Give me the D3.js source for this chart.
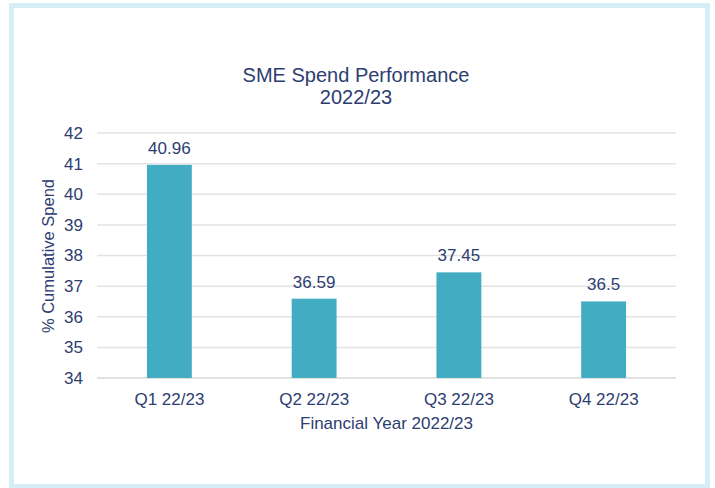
<!DOCTYPE html>
<html>
<head>
<meta charset="utf-8">
<script src="https://cdn.jsdelivr.net/npm/d3@7"></script>
<style>
  body { margin: 0; background: #fff; }
  text { font-family: "Liberation Sans", Arial, sans-serif; fill: #2d3d70; }
</style>
</head>
<body>
<svg id="chart" width="715" height="488"></svg>
<script>
const quarters = ['Q1 22/23', 'Q2 22/23', 'Q3 22/23', 'Q4 22/23'];
const spend = [40.96, 36.59, 37.45, 36.5];
const yTicks = [34, 35, 36, 37, 38, 39, 40, 41, 42];

const svg = d3.select('#chart');

// light blue frame
svg.append('rect')
  .attr('x', 11.5).attr('y', 5.5)
  .attr('width', 696).attr('height', 481)
  .attr('fill', 'none')
  .attr('stroke', '#d4edf6')
  .attr('stroke-width', 5);

const plot = { left: 97, right: 676, top: 133, bottom: 378 };

const x = d3.scaleBand().domain(quarters).range([plot.left, plot.right]).paddingInner(0.69).paddingOuter(0.345);
const y = d3.scaleLinear().domain([34, 42]).range([plot.bottom, plot.top]);

// gridlines
svg.append('g')
  .selectAll('line')
  .data(yTicks)
  .join('line')
  .attr('x1', plot.left).attr('x2', plot.right)
  .attr('y1', d => y(d)).attr('y2', d => y(d))
  .attr('stroke', d => d === 34 ? '#d9d9d9' : '#e3e3e3')
  .attr('stroke-width', 1.5);

// y axis labels
const yAxis = svg.append('g')
  .attr('transform', `translate(${plot.left}, 0)`)
  .call(d3.axisLeft(y).tickValues(yTicks).tickSize(0).tickPadding(14));
yAxis.select('.domain').remove();
yAxis.selectAll('text').style('font-size', '17px').attr('fill', '#2d3d70');

// x axis labels
const xAxis = svg.append('g')
  .attr('transform', `translate(0, ${plot.bottom})`)
  .call(d3.axisBottom(x).tickSize(0).tickPadding(15));
xAxis.select('.domain').remove();
xAxis.selectAll('text').style('font-size', '17px').attr('fill', '#2d3d70');

// bars
svg.append('g')
  .selectAll('rect')
  .data(spend)
  .join('rect')
  .attr('x', (d, i) => x(quarters[i]))
  .attr('y', d => y(d))
  .attr('width', x.bandwidth())
  .attr('height', d => plot.bottom - y(d))
  .attr('fill', '#42adc2');

// value labels
svg.append('g')
  .selectAll('text')
  .data(spend)
  .join('text')
  .attr('x', (d, i) => x(quarters[i]) + x.bandwidth() / 2)
  .attr('y', d => y(d) - 11)
  .attr('text-anchor', 'middle')
  .style('font-size', '17px')
  .text(d => d);

// title
svg.append('text')
  .attr('x', 356).attr('y', 82)
  .attr('text-anchor', 'middle')
  .style('font-size', '20px')
  .text('SME Spend Performance');
svg.append('text')
  .attr('x', 356).attr('y', 104)
  .attr('text-anchor', 'middle')
  .style('font-size', '20px')
  .text('2022/23');

// axis titles
svg.append('text')
  .attr('x', (plot.left + plot.right) / 2).attr('y', 429)
  .attr('text-anchor', 'middle')
  .style('font-size', '17px')
  .text('Financial Year 2022/23');

svg.append('text')
  .attr('transform', 'translate(54, 256) rotate(-90)')
  .attr('text-anchor', 'middle')
  .style('font-size', '16.5px')
  .text('% Cumulative Spend');
</script>
</body>
</html>
